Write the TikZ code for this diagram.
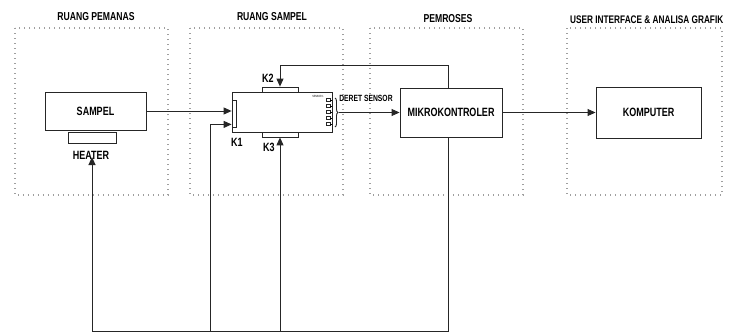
\documentclass[tikz,border=0pt]{standalone}
\usepackage{fontspec}
\newfontfamily\nar{Liberation Sans}[FakeStretch=0.75]
\usetikzlibrary{arrows.meta,decorations.pathreplacing}
\begin{document}
\begin{tikzpicture}[x=1pt,y=-1pt,
  zone/.style={draw=gray!75,line width=1.2pt,dash pattern=on 0.8pt off 4.2pt},
  blk/.style={draw=black!85,line width=0.9pt,fill=white,inner sep=0pt,font=\nar\bfseries\fontsize{12}{14}\selectfont},
  pad/.style={draw=black!85,line width=0.8pt,fill=white,inner sep=0pt},
  ttl/.style={font=\nar\bfseries\fontsize{11.5}{13}\selectfont,inner sep=0pt},
  lbl/.style={font=\nar\bfseries\fontsize{12}{14}\selectfont,inner sep=0pt},
  wire/.style={draw=black!85,line width=0.9pt},
  arr/.style={wire,-{Triangle[length=8pt,width=7pt]}}]
\useasboundingbox (0,0) rectangle (729,333);
% zones
\draw[zone] (15,28) rectangle (168,195);
\draw[zone] (190,28) rectangle (343,195);
\draw[zone] (370,28) rectangle (523,195);
\draw[zone] (567,28) rectangle (722,195);
\node[ttl] (t1) at (96,17) {RUANG PEMANAS};
\node[ttl] (t2) at (272,17) {RUANG SAMPEL};
\node[ttl] (t3) at (448,19) {PEMROSES};
\node[ttl,font=\nar\bfseries\fontsize{11}{13}\selectfont,anchor=west] (t4) at (570,20) {USER INTERFACE \& ANALISA GRAFIK};
% heater chamber
\node[blk,minimum width=101pt,minimum height=38pt] (sampel) at (95.5,111) {SAMPEL};
\node[pad,minimum width=48pt,minimum height=11pt] (heater) at (92,137.5) {};
\node[lbl] (hlab) at (91,155) {HEATER};
% sample chamber
\node[blk,minimum width=100pt,minimum height=40pt] (rs) at (282,112) {};
\node[pad,minimum width=36pt,minimum height=5pt] (k2) at (280,89.5) {};
\node[pad,minimum width=36pt,minimum height=5pt] (k3) at (280,134.5) {};
\node[pad,minimum width=4pt,minimum height=27pt] (k1) at (234,113.5) {};
\node[lbl] (k1l) at (237,142) {K1};
\node[lbl] (k2l) at (268,78) {K2};
\node[lbl] (k3l) at (269,147) {K3};
\node[font=\nar\fontsize{3}{3}\selectfont,inner sep=0pt] (s1) at (318,96.5) {SENSOR 1};
\foreach \i/\yy in {a/100,b/106,c/112,d/118,e/124}{
  \node[pad,line width=0.5pt,minimum width=4pt,minimum height=3pt] (sn\i) at (328,\yy) {};
  \draw[line width=0.5pt] (sn\i.east) -- (sn\i.east -| rs.east);
}
\draw[wire,decorate,decoration={brace,amplitude=3pt}] (335,98) -- (335,127);
\coordinate (bt) at (338.5,112.5);
\node[font=\nar\bfseries\fontsize{9}{11}\selectfont,inner sep=0pt] (deret) at (366,98) {DERET SENSOR};
% processor and computer
\node[blk,minimum width=102pt,minimum height=49pt] (mikro) at (451,112.5) {MIKROKONTROLER};
\node[blk,minimum width=105pt,minimum height=51pt] (komp) at (648.5,112.5) {KOMPUTER};
% connectors
\draw[arr] (sampel.east) -- (sampel.east -| k1.west);
\draw[arr] (bt) -- (mikro.west);
\draw[arr] (mikro.east) -- (komp.west);
\draw[arr] ([xshift=-3pt]mikro.north) -- ++(0,-22) -| (k2.north);
\coordinate (bl) at (92,331);
\coordinate (j1) at (210,331);
\coordinate (j2) at (280,331);
\coordinate (hin) at (92,157);
\draw[wire] ([xshift=-3pt]mikro.south) -- ([xshift=-3pt]mikro.south |- bl) -- (bl);
\draw[arr] (bl) -- (hin);
\draw[arr] (j1) |- ([yshift=3pt]k1.south west);
\draw[arr] (j2) -- (k3.south);
\end{tikzpicture}
\end{document}
